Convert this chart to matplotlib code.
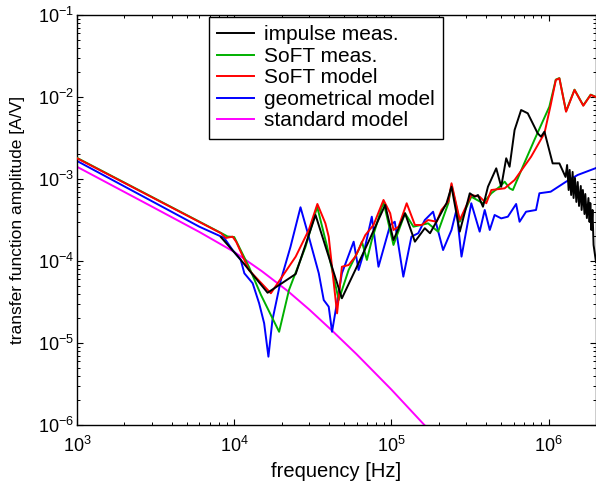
import matplotlib
matplotlib.use("Agg")
from matplotlib import pyplot as plt

plt.rcParams['font.family'] = ['Liberation Sans', 'DejaVu Sans']
plt.rcParams['mathtext.fontset'] = 'custom'
plt.rcParams['mathtext.rm'] = 'Liberation Sans'
plt.rcParams['mathtext.it'] = 'Liberation Sans:italic'
plt.rcParams['mathtext.bf'] = 'Liberation Sans:bold'
plt.rcParams['axes.unicode_minus'] = False

# values (frequency in Hz, amplitude in A/V)
impulse_f = [8.24e3, 1.08e4, 1.63e4, 2.46e4, 3.29e4, 4.84e4, 5.89e4, 7.15e4, 9.12e4,
             1.03e5, 1.22e5, 1.41e5, 1.63e5, 1.76e5, 2.24e5, 2.41e5, 2.72e5, 3.15e5,
             3.39e5, 3.55e5, 3.82e5, 4.11e5, 4.64e5, 4.99e5, 5.37e5, 5.64e5, 6.07e5,
             6.68e5, 7.36e5, 8.51e5, 8.94e5, 9.40e5, 1.06e6, 1.17e6, 1.28e6,
             1.31e6, 1.34e6, 1.36e6, 1.39e6, 1.42e6, 1.44e6, 1.47e6, 1.50e6, 1.53e6,
             1.56e6, 1.60e6, 1.62e6, 1.65e6, 1.69e6, 1.71e6, 1.75e6, 1.79e6, 1.82e6,
             1.84e6, 1.87e6, 1.90e6, 1.93e6, 2.0e6]
impulse_a = [1.95e-4, 1.08e-4, 4.10e-5, 6.94e-5, 3.64e-4, 3.51e-5, 7.77e-5, 1.72e-4, 4.82e-4,
             1.80e-4, 3.82e-4, 1.72e-4, 2.51e-4, 2.18e-4, 5.06e-4, 8.05e-4, 2.28e-4, 6.70e-4,
             6.08e-4, 6.38e-4, 4.59e-4, 8.05e-4, 1.35e-3, 8.05e-4, 1.79e-3, 1.41e-3, 3.96e-3,
             6.94e-3, 6.33e-3, 3.61e-3, 3.28e-3, 3.78e-3, 1.55e-3, 1.55e-3, 1.06e-3,
             1.48e-3, 7.34e-4, 1.29e-3, 6.38e-4, 1.22e-3, 5.86e-4, 1.03e-3, 5.25e-4, 9.19e-4,
             4.69e-4, 8.22e-4, 4.19e-4, 7.34e-4, 3.74e-4, 6.56e-4, 3.34e-4, 5.86e-4, 2.99e-4,
             5.09e-4, 2.39e-4, 4.19e-4, 1.57e-4, 9.7e-5]

soft_meas_f = [1e3, 8.24e3, 9.07e3, 1.0e4, 1.24e4, 1.48e4, 1.93e4, 2.23e4, 2.84e4, 3.37e4,
               3.90e4, 4.62e4, 5.34e4, 6.18e4, 6.49e4, 6.98e4, 7.50e4, 8.90e4, 1.03e5,
               1.22e5, 1.38e5, 1.71e5, 1.98e5, 2.30e5, 2.41e5, 2.72e5, 3.22e5, 3.82e5,
               4.32e5, 4.88e5, 5.25e5, 5.64e5, 5.92e5, 6.84e5, 8.11e5, 1.01e6, 1.11e6,
               1.17e6, 1.29e6, 1.46e6, 1.66e6, 1.85e6, 2.0e6]
soft_meas_a = [1.81e-3, 2.20e-4, 1.99e-4, 1.96e-4, 8.51e-5, 3.85e-5, 1.37e-5, 4.43e-5, 1.49e-4,
               4.59e-4, 1.49e-4, 3.34e-5, 7.77e-5, 1.36e-4, 1.72e-4, 1.03e-4, 1.80e-4, 5.29e-4,
               1.57e-4, 3.82e-4, 2.62e-4, 2.88e-4, 2.28e-4, 5.06e-4, 8.45e-4, 3.01e-4, 6.08e-4,
               5.06e-4, 6.70e-4, 8.05e-4, 9.27e-4, 7.70e-4, 7.34e-4, 1.41e-3, 2.99e-3, 7.62e-3,
               1.63e-2, 1.70e-2, 6.70e-3, 1.23e-2, 7.90e-3, 1.07e-2, 1.0e-2]

soft_model_f = [1e3, 8.24e3, 8.86e3, 9.76e3, 1.03e4, 1.24e4, 1.71e4, 2.46e4, 2.98e4, 3.38e4,
                3.80e4, 3.99e4, 4.51e4, 4.84e4, 5.34e4, 5.89e4, 6.82e4, 7.69e4, 8.90e4,
                9.82e4, 1.03e5, 1.11e5, 1.25e5, 1.41e5, 1.56e5, 1.71e5, 1.94e5, 2.08e5,
                2.30e5, 2.41e5, 2.72e5, 3.22e5, 3.64e5, 4.01e5, 4.32e5, 5.25e5, 6.07e5,
                7.73e5, 9.40e5, 1.03e6, 1.11e6, 1.17e6, 1.29e6, 1.46e6, 1.66e6, 1.85e6, 2.0e6]
soft_model_a = [1.79e-3, 2.18e-4, 1.91e-4, 1.98e-4, 1.71e-4, 7.77e-5, 4.04e-5, 1.13e-4, 2.39e-4,
                4.96e-4, 2.88e-4, 1.98e-4, 2.30e-5, 8.51e-5, 8.93e-5, 1.13e-4, 2.07e-4, 2.75e-4,
                5.55e-4, 3.82e-4, 2.39e-4, 2.62e-4, 5.06e-4, 2.75e-4, 2.75e-4, 3.16e-4, 3.01e-4,
                4.19e-4, 5.29e-4, 8.87e-4, 3.16e-4, 6.38e-4, 6.08e-4, 5.06e-4, 7.34e-4, 7.70e-4,
                9.72e-4, 1.87e-3, 3.61e-3, 7.99e-3, 1.61e-2, 1.69e-2, 6.62e-3, 1.22e-2, 7.83e-3,
                1.06e-2, 1.0e-2]

geom_f = [1e3, 6.00e3, 8.64e3, 9.76e3, 1.10e4, 1.16e4, 1.31e4, 1.44e4, 1.55e4, 1.65e4,
          1.75e4, 1.98e4, 2.28e4, 2.64e4, 2.98e4, 3.45e4, 3.71e4, 3.99e4, 4.19e4, 4.84e4,
          5.75e4, 6.18e4, 6.65e4, 7.50e4, 8.27e4, 9.82e4, 1.05e5, 1.19e5, 1.34e5, 1.48e5,
          1.63e5, 1.84e5, 2.13e5, 2.41e5, 2.59e5, 2.79e5, 3.22e5, 3.64e5, 3.92e5, 4.22e5,
          4.53e5, 4.99e5, 5.50e5, 6.21e5, 6.53e5, 7.18e5, 8.31e5, 8.73e5, 1.03e6, 1.29e6,
          1.53e6, 2.0e6]
geom_a = [1.66e-3, 2.62e-4, 1.91e-4, 1.36e-4, 1.03e-4, 7.08e-5, 5.35e-5, 3.05e-5, 1.74e-5, 6.81e-6,
          1.91e-5, 5.86e-5, 1.49e-4, 4.52e-4, 1.98e-4, 7.08e-5, 3.34e-5, 2.77e-5, 1.37e-5, 7.08e-5,
          1.72e-4, 7.77e-5, 1.24e-4, 3.47e-4, 8.51e-5, 2.75e-4, 3.01e-4, 6.44e-5, 1.98e-4, 2.18e-4,
          3.16e-4, 3.99e-4, 1.36e-4, 2.39e-4, 4.19e-4, 1.13e-4, 5.06e-4, 2.28e-4, 4.19e-4, 2.39e-4,
          3.64e-4, 3.31e-4, 3.47e-4, 4.96e-4, 3.01e-4, 3.99e-4, 4.19e-4, 6.70e-4, 7.00e-4, 9.27e-4,
          1.12e-3, 1.36e-3]

std_f = [1e3, 3e3, 6e3, 1e4, 1.5e4, 2.2e4, 3e4, 4.2e4, 6e4, 1e5, 1.62e5, 2e5]
std_a = [1.41e-3, 4.6e-4, 2.26e-4, 1.29e-4, 7.5e-5, 4.27e-5, 2.56e-5, 1.41e-5, 7.3e-6, 2.7e-6,
         1.0e-6, 6.6e-7]

fig = plt.figure(figsize=(5.96, 4.86), dpi=100)
ax = fig.add_axes([77 / 596, 1 - 425 / 486, 519 / 596, 410 / 486])

lw = 1.4
ax.loglog(impulse_f, impulse_a, color='black', lw=lw, label='impulse meas.', zorder=5)
ax.loglog(soft_meas_f, soft_meas_a, color='#00b000', lw=lw, label='SoFT meas.', zorder=3)
ax.loglog(soft_model_f, soft_model_a, color='#ff0000', lw=lw, label='SoFT model', zorder=4)
ax.loglog(geom_f, geom_a, color='#0000ff', lw=lw, label='geometrical model', zorder=2)
ax.loglog(std_f, std_a, color='#ff00ff', lw=lw, label='standard model', zorder=1)

ax.set_xlim(1e3, 2e6)
ax.set_ylim(1e-6, 1e-1)

ax.tick_params(which='both', direction='in', top=True, right=True, labelsize=13)
ax.tick_params(which='major', length=4, width=0.8)
ax.tick_params(which='minor', length=2.3, width=0.7)
ax.tick_params(axis='x', which='major', pad=8)
ax.tick_params(axis='y', which='major', pad=2)
for s in ax.spines.values():
    s.set_linewidth(1.0)

ax.set_xlabel('frequency [Hz]', fontsize=14.5)
ax.set_ylabel('transfer function amplitude [A/V]', fontsize=12.5)
ax.xaxis.set_label_coords(0.5, -0.09)
ax.yaxis.set_label_coords(-0.1, 0.5)

leg = ax.legend(loc='upper left', bbox_to_anchor=(209 / 596, 1 - 17 / 486),
                bbox_transform=fig.transFigure, fontsize=15, frameon=True,
                fancybox=False, framealpha=1, edgecolor='black', borderaxespad=0,
                handlelength=1.75, handletextpad=0.5, labelspacing=0.12, borderpad=0.4)
leg.get_frame().set_linewidth(1.0)

fig.savefig('out.png', dpi=100)
